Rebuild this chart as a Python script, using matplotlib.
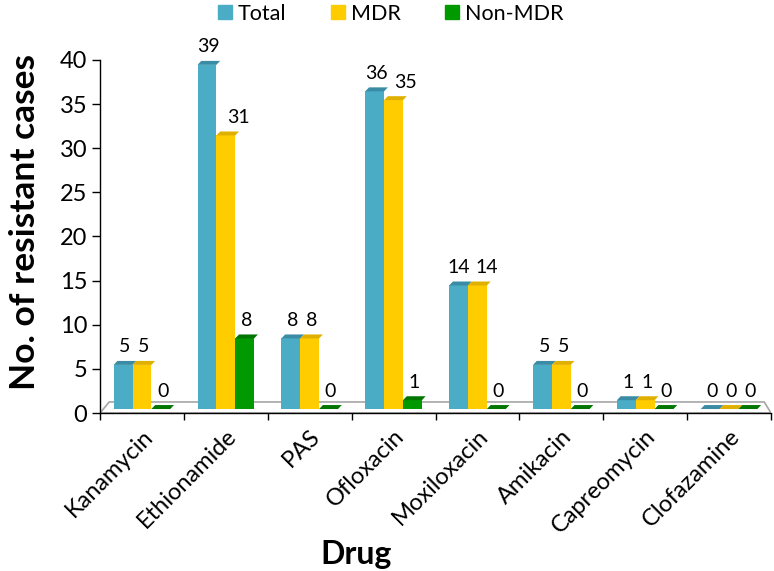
import matplotlib.pyplot as plt
import numpy as np
from matplotlib.patches import Polygon
from matplotlib.lines import Line2D

drugs = ["Kanamycin", "Ethionamide", "PAS", "Ofloxacin", "Moxiloxacin",
         "Amikacin", "Capreomycin", "Clofazamine"]
total = [5, 39, 8, 36, 14, 5, 1, 0]
mdr = [5, 31, 8, 35, 14, 5, 1, 0]
non_mdr = [0, 8, 0, 1, 0, 0, 0, 0]

series = [("Total", total, "#4BACC6", "#3A8CA5"),
          ("MDR", mdr, "#FFCC00", "#E0B000"),
          ("Non-MDR", non_mdr, "#009A00", "#007500")]

# labels that Excel nudged sideways (series index, category index) -> points
nudge = {(1, 1): 8, (1, 3): 7, (0, 4): -1, (1, 4): 5}

plt.rcParams['font.family'] = ['Lato', 'DejaVu Sans']

fig = plt.figure(figsize=(7.74, 5.71), dpi=100)
ax = fig.add_axes([100/774, 1-413/571, 671/774, (413-60)/571])

x = np.arange(len(drugs))
w = 0.225
lift = 0.45      # bars stand on the pseudo-3D floor
dx, dy = 0.045, 0.45   # top face skew

# floor slab
floor = Polygon([(-0.5, 0), (-0.5 + 0.11, 1.25), (7.5 - 0.08, 1.25), (7.5, 0)],
                closed=True, facecolor="white", edgecolor="#A6A6A6", lw=1.2, zorder=1)
ax.add_patch(floor)

for i, (name, vals, col, topcol) in enumerate(series):
    xs = x + (i - 1) * w
    ax.bar(xs, vals, width=w, bottom=lift, color=col, edgecolor="none", zorder=3)
    for j, (xi, v) in enumerate(zip(xs, vals)):
        x0, x1 = xi - w / 2, xi + w / 2
        top = lift + v
        ax.add_patch(Polygon([(x0, top), (x1, top), (x1 + dx, top + dy), (x0 + dx, top + dy)],
                             closed=True, facecolor=topcol, edgecolor="none", zorder=4))
        ax.annotate(str(v), (xi + dx / 2, top + dy), xytext=(nudge.get((i, j), 0), 4),
                    textcoords="offset points", ha="center", va="bottom",
                    fontsize=14, color="black")

ax.set_xlim(-0.5, 7.5)
ax.set_ylim(0, 40)
ax.set_yticks(range(0, 41, 5))
ax.set_xticks(np.arange(-0.5, 8, 1))
ax.set_xticklabels([])
ax.set_xticks(x, minor=True)
ax.set_xticklabels(drugs, minor=True, rotation=45, ha="right", rotation_mode="anchor", fontsize=17)
ax.tick_params(axis="x", which="minor", length=0, pad=9)
ax.tick_params(axis="x", which="major", length=5, width=1)
ax.tick_params(axis="y", labelsize=17, length=6, width=1, pad=3)

for s in ["top", "right"]:
    ax.spines[s].set_visible(False)
ax.spines["left"].set_linewidth(1)
ax.spines["bottom"].set_linewidth(1)

ax.set_ylabel("No. of resistant cases", fontsize=25.5, fontweight="bold")
ax.yaxis.set_label_coords(-0.088, 0.54)
ax.set_xlabel("Drug", fontsize=23, fontweight="bold")
ax.xaxis.set_label_coords(0.382, -0.36)

handles = [Line2D([], [], marker="s", ls="none", markersize=10, color=c) for _, _, c, _ in series]
fig.legend(handles, [s[0] for s in series], loc="center", bbox_to_anchor=(390/774, 1-14/571),
           ncol=3, frameon=False, fontsize=15.5, handletextpad=0.2, columnspacing=2.0,
           handlelength=0.8)

fig.savefig("out.png", dpi=100)
